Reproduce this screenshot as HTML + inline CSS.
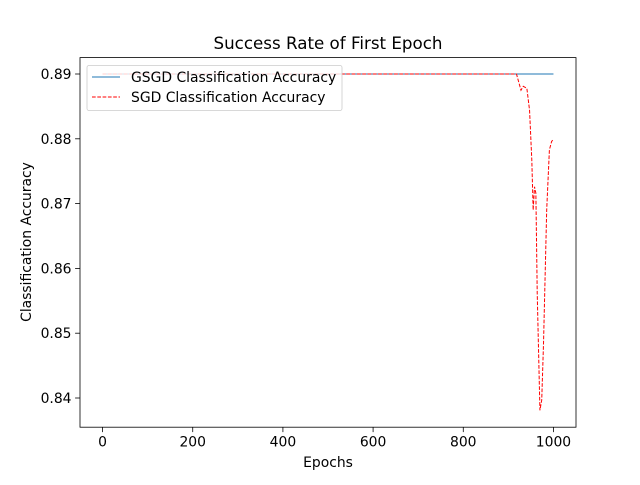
<!DOCTYPE html>
<html><head><meta charset="utf-8"><style>
body{margin:0;background:#fff;font-family:"Liberation Sans","DejaVu Sans",sans-serif}
svg text{font-family:"DejaVu Sans","Liberation Sans",sans-serif;fill:#000}
</style></head><body>
<svg id="c" width="640" height="480" xmlns="http://www.w3.org/2000/svg"></svg>
<script>
const xTicks=[0,200,400,600,800,1000];
const yTicks=[0.84,0.85,0.86,0.87,0.88,0.89];
const gsgdEpochs=[0,1000];
const gsgdValues=[0.89,0.89];
const sgdEpochs=[0,200,400,600,800,918,926,928,933,941,947,952,955,958,961,964,970,974,978,985,991,996,1000];
const sgdValues=[0.89,0.89,0.89,0.89,0.89,0.89,0.888,0.8875,0.8881,0.8878,0.8844,0.8767,0.869,0.8726,0.8716,0.8562,0.8381,0.8397,0.8485,0.869,0.8783,0.8796,0.8799];
const L=80,R=576,T=57.6,B=427.2,xmin=-50,xmax=1050,ymin=0.835494,ymax=0.892531;
const sx=v=>L+(v-xmin)/(xmax-xmin)*(R-L);
const sy=v=>B-(v-ymin)/(ymax-ymin)*(B-T);
const svg=document.getElementById('c');
const NS='http://www.w3.org/2000/svg';
function mk(tag,attrs,parent){const e=document.createElementNS(NS,tag);for(const k in attrs)e.setAttribute(k,attrs[k]);(parent||svg).appendChild(e);return e;}
let e;
e=mk('rect',{x:L,y:T,width:R-L,height:B-T,fill:'none',stroke:'#000','stroke-width':0.8});


xTicks.forEach(t=>{
 e=mk('line',{x1:sx(t),x2:sx(t),y1:B,y2:B+4.9,stroke:'#000','stroke-width':0.8});
 
 
 e=mk('text',{x:sx(t),y:B+19.5,'text-anchor':'middle','font-size':13.9});e.textContent=t;
 
 
});
yTicks.forEach(t=>{
 e=mk('line',{x1:L-4.9,x2:L,y1:sy(t),y2:sy(t),stroke:'#000','stroke-width':0.8});
 
 
 e=mk('text',{x:L-8.5,y:sy(t)+5,'text-anchor':'end','font-size':13.9});e.textContent=t.toFixed(2);
 
 
});
e=mk('text',{x:328,y:49,'text-anchor':'middle','font-size':16.7});e.textContent='Success Rate of First Epoch';


e=mk('text',{x:328,y:467,'text-anchor':'middle','font-size':13.9});e.textContent='Epochs';


e=mk('text',{x:31,y:242,'text-anchor':'middle','font-size':13.9,transform:'rotate(-90 31 242)'});e.textContent='Classification  Accuracy';


const pts=(xs,ys)=>xs.map((x,i)=>sx(x).toFixed(2)+','+sy(ys[i]).toFixed(2)).join(' ');
e=mk('polyline',{points:pts(gsgdEpochs,gsgdValues),fill:'none',stroke:'#1f77b4','stroke-width':1});


e=mk('polyline',{points:pts(sgdEpochs,sgdValues),fill:'none',stroke:'#ff0000','stroke-width':1,'stroke-dasharray':'3.7,1.6'});


const lg=mk('g',{});


mk('rect',{x:87,y:65.5,width:255,height:45,rx:2,fill:'#fff','fill-opacity':0.8,stroke:'#ccc','stroke-width':0.8},lg);
e=mk('line',{x1:92,x2:120,y1:77,y2:77,stroke:'#1f77b4','stroke-width':1},lg);


e=mk('text',{x:131,y:82,'font-size':13.9},lg);e.textContent='GSGD Classification Accuracy';


e=mk('line',{x1:92,x2:120,y1:97,y2:97,stroke:'#ff0000','stroke-width':1,'stroke-dasharray':'3.7,1.6'},lg);


e=mk('text',{x:131,y:102,'font-size':13.9},lg);e.textContent='SGD Classification Accuracy';


</script>
</body></html>
